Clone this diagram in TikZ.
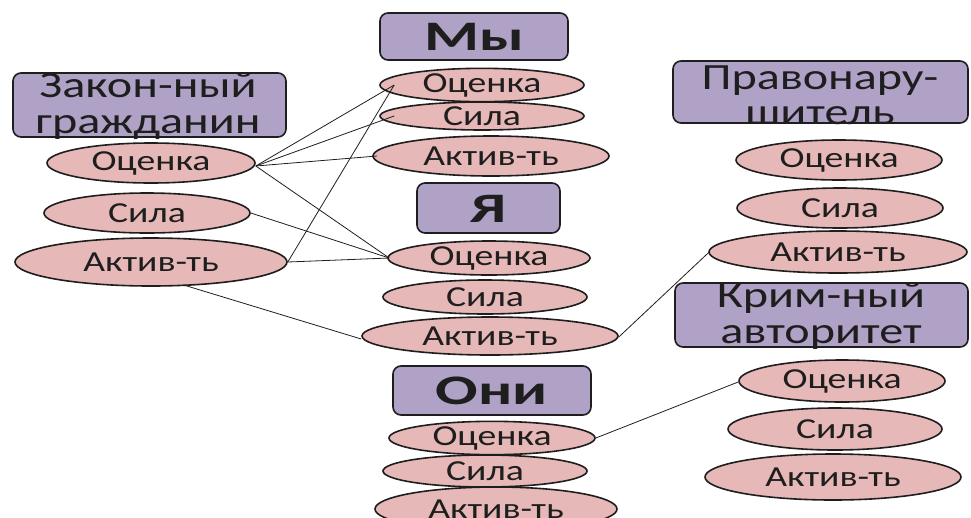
\documentclass[tikz,border=0pt]{standalone}
\usepackage{fontspec}
\setmainfont[FakeStretch=1.3]{Carlito}
\newfontfamily\widebold[FakeStretch=1.5]{Carlito}
\usetikzlibrary{shapes.geometric}
\definecolor{boxfill}{HTML}{B0A1C7}
\definecolor{ellfill}{HTML}{E6B8B7}
\definecolor{ink}{HTML}{1E1E1E}
\tikzset{
  titlebox/.style={draw=ink, line width=1.6pt, fill=boxfill, rounded corners=8pt, inner sep=0pt},
  titletext/.style={text=ink, inner sep=0pt, anchor=base, font=\fontsize{37}{39}\selectfont},
  boldtitle/.style={text=ink, inner sep=0pt, font=\widebold\bfseries\fontsize{42}{44}\selectfont},
  oval/.style={ellipse, draw=ink, line width=1.6pt, fill=ellfill, inner sep=0pt, text=ink, font=\fontsize{29}{31}\selectfont},
  link/.style={draw=ink, line width=0.8pt}
}
\begin{document}
\begin{tikzpicture}[x=1pt,y=-1pt]
\useasboundingbox (0,0) rectangle (971,517);
% title boxes
\node[titlebox, minimum width=188pt, minimum height=47pt] (my) at (474,36.5) {};
\node[boldtitle] (mytext) at (474,37) {Мы};
\node[titlebox, minimum width=273pt, minimum height=64pt] (zakon) at (149.5,105) {};
\node[titletext] (zakon1) at (148,97) {Закон-ный};
\node[titletext] (zakon2) at (148,133) {гражданин};
\node[titlebox, minimum width=143pt, minimum height=50pt] (ya) at (488.5,208) {};
\node[boldtitle] (yatext) at (488.5,209) {Я};
\node[titlebox, minimum width=295pt, minimum height=62pt] (pravo) at (820.5,92) {};
\node[titletext] (pravo1) at (820,89) {Правонару-};
\node[titletext] (pravo2) at (820,124) {шитель};
\node[titlebox, minimum width=293pt, minimum height=64pt] (krim) at (821.5,315) {};
\node[titletext] (krim1) at (821,307) {Крим-ный};
\node[titletext] (krim2) at (821,343) {авторитет};
\node[titlebox, minimum width=198pt, minimum height=49pt] (oni) at (492,390.5) {};
\node[boldtitle] (onitext) at (492,391) {Они};
% left column
\node[oval, minimum width=208pt, minimum height=40pt] (lO) at (151,163) {Оценка};
\node[oval, minimum width=206pt, minimum height=40pt] (lS) at (147,213) {Сила};
\node[oval, minimum width=272pt, minimum height=48pt] (lA) at (151,262) {Актив-ть};
% Мы column
\node[oval, minimum width=204pt, minimum height=30pt] (mO) at (482,85) {Оценка};
\node[oval, minimum width=204pt, minimum height=28pt] (mS) at (482,116) {Сила};
\node[oval, minimum width=236pt, minimum height=40pt] (mA) at (491,156) {Актив-ть};
% Я column
\node[oval, minimum width=202pt, minimum height=34pt] (yO) at (489,258) {Оценка};
\node[oval, minimum width=204pt, minimum height=34pt] (yS) at (485,297) {Сила};
\node[oval, minimum width=256pt, minimum height=38pt] (yA) at (490,336) {Актив-ть};
% Они column
\node[oval, minimum width=206pt, minimum height=30pt] (oO) at (492,438) {Оценка};
\node[oval, minimum width=204pt, minimum height=32pt] (oS) at (485,471) {Сила};
\node[oval, minimum width=242pt, minimum height=44pt] (oA) at (496,509) {Актив-ть};
% Правонарушитель column
\node[oval, minimum width=206pt, minimum height=40pt] (pO) at (839,160) {Оценка};
\node[oval, minimum width=206pt, minimum height=40pt] (pS) at (840,208) {Сила};
\node[oval, minimum width=258pt, minimum height=42pt] (pA) at (838,252) {Актив-ть};
% Крим-ный column
\node[oval, minimum width=206pt, minimum height=42pt] (kO) at (842,381) {Оценка};
\node[oval, minimum width=214pt, minimum height=42pt] (kS) at (835,429) {Сила};
\node[oval, minimum width=256pt, minimum height=46pt] (kA) at (833,477) {Актив-ть};
% connectors
\draw[link] ([yshift=-3pt]lO.east) -- ([xshift=15pt]mO.west);
\draw[link] ([yshift=-3pt]lO.east) -- ([xshift=15pt]mS.west);
\draw[link] ([yshift=-3pt]lO.east) -- ([xshift=5pt]mA.west);
\draw[link] ([yshift=-3pt]lO.east) -- ([xshift=2pt]yO.west);
\draw[link] (lS.east) -- ([xshift=2pt]yO.west);
\draw[link] (lA.east) -- ([xshift=2pt]yO.west);
\draw[link] (lA.east) -- ([xshift=15pt]mO.west);
\draw[link] ([xshift=32pt,yshift=2pt]lA.south) -- ([yshift=-3pt]yA.west);
\draw[link] ([yshift=-1pt]yA.east) -- ([xshift=1pt]pA.west);
\draw[link] (oO.east) -- ([yshift=-1pt]kO.west);
\end{tikzpicture}
\end{document}
